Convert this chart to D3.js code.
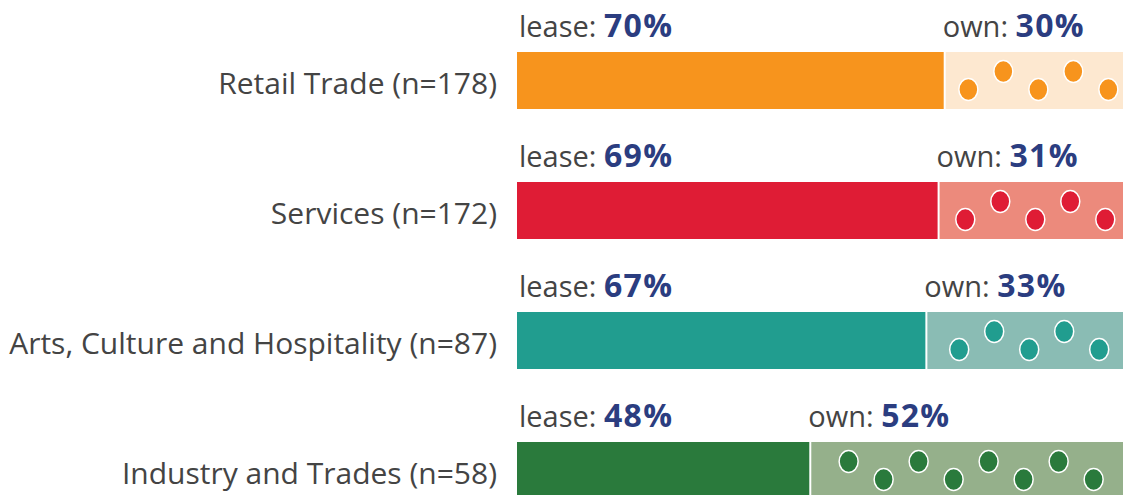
<!DOCTYPE html>
<html lang="en">
<head>
  <meta charset="UTF-8">
  <title>Lease vs own</title>
  <style>
    body { margin: 0; background: #fff; }
    text { font-family: "Open Sans", sans-serif; }
  </style>
</head>
<body>
  <svg id="container" width="1123" height="495">
    <g id="body"></g>
  </svg>
<script src="https://cdn.jsdelivr.net/npm/d3@7"></script>
<script>
  // data
  let categories = ["Retail Trade (n=178)", "Services (n=172)", "Arts, Culture and Hospitality (n=87)", "Industry and Trades (n=58)"]
  let leasePct = [70, 69, 67, 48]
  let ownPct = [30, 31, 33, 52]
  let dotCount = [5, 5, 5, 8]
  let darkColors = ["#f7941d", "#df1c35", "#219d8f", "#2a7a3c"]
  let lightColors = ["#fde8d0", "#ec8a7c", "#8abcb4", "#95b08b"]

  let container = d3.select("#body")

  let x = d3.scaleLinear().domain([0, 100]).range([517, 1128])
  let y = d3.scaleBand().domain(categories).range([52, 499]).paddingInner(73 / 130).paddingOuter(0)

  let rows = categories.map((c, i) => ({
    name: c, lease: leasePct[i], own: ownPct[i], dots: dotCount[i],
    dark: darkColors[i], light: lightColors[i], first: i == 3 ? -1 : 1
  }))

  let row = container.selectAll("g.row")
    .data(rows)
    .enter()
    .append("g")
    .attr("class", "row")

  // category label
  row.append("text")
    .attr("x", 497)
    .attr("y", d => y(d.name) + y.bandwidth() / 2)
    .attr("dy", "0.46em")
    .attr("text-anchor", "end")
    .attr("font-size", 30)
    .attr("fill", "#444")
    .text(d => d.name)

  // own segment (light) and lease segment (dark)
  row.append("rect")
    .attr("x", d => x(d.lease))
    .attr("y", d => y(d.name))
    .attr("width", d => x(d.lease + d.own) - x(d.lease))
    .attr("height", y.bandwidth())
    .attr("fill", d => d.light)

  row.append("rect")
    .attr("x", x(0))
    .attr("y", d => y(d.name))
    .attr("width", d => x(d.lease) - x(0))
    .attr("height", y.bandwidth())
    .attr("fill", d => d.dark)

  row.append("line")
    .attr("x1", d => x(d.lease)).attr("x2", d => x(d.lease))
    .attr("y1", d => y(d.name)).attr("y2", d => y(d.name) + y.bandwidth())
    .attr("stroke", "#fff").attr("stroke-width", 2)

  // dots in the own segment
  row.each(function(d) {
    let g = d3.select(this)
    let mid = (x(d.lease) + x(100)) / 2 + 2
    let step = 35
    let x0 = mid - (d.dots - 1) * step / 2
    let cy = y(d.name) + y.bandwidth() / 2
    for (let k = 0; k < d.dots; k++) {
      let sign = (k % 2 == 0 ? 1 : -1) * d.first
      g.append("ellipse")
        .attr("cx", x0 + k * step)
        .attr("cy", cy + sign * 9)
        .attr("rx", 9.5)
        .attr("ry", 11)
        .attr("fill", d.dark)
        .attr("stroke", "#fff")
        .attr("stroke-width", 1.5)
    }
  })

  // lease / own labels
  let lease = row.append("text")
    .attr("x", x(0) + 2)
    .attr("y", d => y(d.name) - 15)
    .attr("font-size", 29)
  lease.append("tspan").attr("fill", "#444").text("lease: ")
  lease.append("tspan").attr("fill", "#2b3d80").attr("font-weight", "bold")
    .attr("font-size", 32).attr("letter-spacing", 1.3).text(d => d.lease + "%")

  let own = row.append("text")
    .attr("x", d => x(d.lease) - 2)
    .attr("y", d => y(d.name) - 15)
    .attr("font-size", 29)
  own.append("tspan").attr("fill", "#444").text("own: ")
  own.append("tspan").attr("fill", "#2b3d80").attr("font-weight", "bold")
    .attr("font-size", 32).attr("letter-spacing", 1.3).text(d => d.own + "%")
</script>
</body>
</html>
